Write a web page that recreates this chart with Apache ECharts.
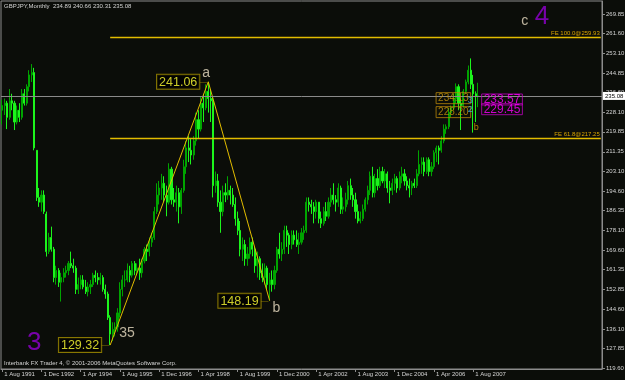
<!DOCTYPE html>
<html><head><meta charset="utf-8">
<script src="https://cdn.jsdelivr.net/npm/echarts@6/dist/echarts.min.js"></script>
<style>html,body{margin:0;padding:0;background:#0b0d09;}#c{width:625px;height:380px;}</style>
</head><body><div id="c"></div>
<script>
// ---- data (GBPJPY monthly, Aug 1991 .. Oct 2007) ----
const opens = [
229,231,232,226,233,232,224,229,226,236,232,239,244,
245,212,192,190,193,185,169,175,170,158,161,156,158,
160,161,164,163,162,153,155,157,154,152,154,155,159,
158,157,158,153,151,141,134,136,137,143,153,157,157,
161,159,164,161,162,160,165,170,169,173,175,186,193,
196,198,193,190,204,191,190,194,188,195,205,213,212,
210,216,225,221,232,230,237,234,233,197,199,190,186,
194,193,195,193,189,183,178,170,172,166,168,173,170,
163,166,160,158,162,155,157,155,161,170,168,170,178,
176,172,176,174,172,173,177,178,190,189,188,186,190,
183,181,186,184,190,193,191,190,196,187,188,191,197,
193,191,186,182,183,187,191,195,201,194,200,197,203,
199,202,196,195,198,200,196,201,202,199,197,196,198,
197,202,206,207,203,208,203,205,211,213,212,216,221,
222,228,230,234,239,232,231,237,241,246,240,236,234.89];
const highs = [
233.5,234,233,238,236,233,231,232,238,238,240,246,248.6,
247,212,196,195,195,186,177,179.6,171,163,162,160,162,
163,165,169,166,163,158,159,159,157,156,157,160,161,
160,160,159,155,152,142,139,139,145,156,159,161,164,
163,165,165,164,166,166,171,172,175,177,188,198,199,
202,201,197,206.5,205,196,197,196,196,208,216,218,217,
218,228,229,235,236,240,241.06,238,235,203,202,195,197,
198,201,197,196,192,186,182,175,174,171,175,175,171,
169,167,164,164,163,160,161,163,171,177,173,180,180,
177,178,178,178,177,179,180,192,192,191,190,191,190,
186,188,190,192,196,198,193,198,197,192,194,199,200,
196,194,189,186,189,192,197,203,205,202,204,205,205,
204,203,199,200,202,201,203,205,204,201,200,199,200,
204,212,209,209,209,209,207,212,214,214,218,223,223,
230,231,236,240.4,240,234,238,242,248,251,244,237,240.66];
const lows = [
223,227,221,225,229,220.6,223,224,225,231,231,237,241,
212,190.5,188,186,185,166.9,168,169,156,155,154,147.8,156,
158,159,162,160,151,151,153,153,151,150,151,154,156,
155,155,152,149,140,129.32,131,133,135,141,150,154,156,
156,158,159,159,157,158,164,165,167,171,174,185,189,
191,190,184,189,189,188,186,181,185,194,202,207,206,
208,214,217,220,224,229,228,224,192,194,188,177,184,
190,191,189,188,180,176,167,165,163,163,166,167,160,
158,157,156,155,153,148.19,152,153,160,166,165,168,171,
168,170,172,171,168,172,174,177,186,185,181,183,181,
179,180,182,183,188,189,186,188,185,185,186,189,191,
188,183,181,181,182,186,189,193,192,192,195,196,198,
196,194,189.5,193,195,194,195,198,197,195,192,193,196,
196,201,202,201,202,201,201,204,207,206,211,215,219,
221,226,229,232,229,220.6,230,236,240,238,219.5,224,230.31];
const closes = [
231,232,226,233,232,224,229,226,236,232,239,244,245,
213,192,190,193,186,169,175,170,158,161,156,158,160,
161,164,163,162,153,155,157,154,152,154,155,159,158,
157,158,153,151,141,134,136,137,143,153,157,157,161,
159,164,161,162,160,165,170,169,173,175,186,193,196,
198,193,190,204,191,190,194,188,195,205,213,212,210,
216,225,221,232,230,237,234,233,197,199,190,186,194,
193,195,193,189,183,178,170,172,166,168,173,170,163,
166,160,158,162,155,157,155,161,170,168,170,178,176,
172,176,174,172,173,177,178,190,189,188,186,190,183,
181,186,184,190,193,191,190,196,187,188,191,197,193,
191,186,182,183,187,191,195,201,194,200,197,203,199,
202,196,195,198,200,196,201,202,199,197,196,198,197,
202,206,207,203,208,203,205,211,213,212,216,221,222,
228,230,234,239,232,231,237,241,246,240,236,234.89,235.08];

const xTickLabels = ['1 Aug 1991','1 Dec 1992','1 Apr 1994','1 Aug 1995','1 Dec 1996','1 Apr 1998',
  '1 Aug 1999','1 Dec 2000','1 Apr 2002','1 Aug 2003','1 Dec 2004','1 Apr 2006','1 Aug 2007'];
const yTickLabels = ['119.60','127.85','136.10','144.60','152.85','161.35','169.60','178.10','186.35',
  '194.60','203.10','211.35','219.85','228.10','236.60','244.85','253.10','261.60','269.85'];

const titleText = 'GBPJPY,Monthly  234.89 240.66 230.31 235.08';
const copyrightText = 'Interbank FX Trader 4, \u00A9 2001-2006 MetaQuotes Software Corp.';
const currentPrice = 235.08;

// zigzag pivots (start, a, b)
const pivotCats = [44, 84, 109];
const pivotPrices = [129.32, 241.06, 148.19];
const pivotTexts = ['129.32', '241.06', '148.19'];
// Fibonacci expansion levels
const feStartCat = 44;
const feEndCat = 244;
const feLevels = [259.93, 217.25];
const feTexts = ['FE 100.0@259.93', 'FE 61.8@217.25'];
// wave labels
const waveTexts = ['3', 'c', '4'];
const waveCats = [12.75, 212.7, 219.6];
const wavePrices = [130.2, 266.9, 268.8];
// recent price boxes
const orangeTexts = ['234.13', '228.20'];
const orangePrices = [234.13, 228.20];
const magentaTexts = ['233.57', '229.45'];
const magentaPrices = [233.57, 229.45];
const recentCat = 193;

// ---- categories (months) ----
const monthNames = ['Jan','Feb','Mar','Apr','May','Jun','Jul','Aug','Sep','Oct','Nov','Dec'];
const totalSlots = 245;
const categories = [];
for (let k = 0; k < totalSlots; k++) {
  const m = (7 + k) % 12, y = 1991 + Math.floor((7 + k) / 12);
  categories.push('1 ' + monthNames[m] + ' ' + y);
}
const candleData = opens.map((o, i) => [o, closes[i], lows[i], highs[i]]);
const yTickValues = yTickLabels.map(Number);
const isTick = (idx) => xTickLabels.indexOf(categories[idx]) >= 0;

const FG = '#d4d4d4', AX = '#8c8c8c', GOLD = '#e2bc00', WHEAT = '#e8dcc2';
const FONT = 'Liberation Sans, Arial, sans-serif';

const chart = echarts.init(document.getElementById('c'), null, {renderer: 'canvas'});
chart.setOption({
  animation: false,
  backgroundColor: '#0b0d09',
  textStyle: {fontFamily: FONT},
  grid: {left: 1, right: 23, top: 1, bottom: 11, containLabel: false, outerBoundsMode: 'none',
         show: true, borderColor: AX, borderWidth: 1, backgroundColor: 'transparent'},
  xAxis: {
    type: 'category', data: categories, boundaryGap: true,
    axisLine: {show: true, lineStyle: {color: AX}},
    axisTick: {show: true, alignWithLabel: true, interval: (i) => isTick(i), length: 3, lineStyle: {color: AX}},
    axisLabel: {interval: (i) => isTick(i), color: FG, fontSize: 6, align: 'left', margin: 2, padding: [0,0,0,2], fontFamily: FONT},
    splitLine: {show: false}
  },
  yAxis: {
    type: 'value', position: 'right', min: 119.18, max: 275.37, scale: true,
    splitLine: {show: false},
    axisLine: {show: true, lineStyle: {color: AX}},
    axisTick: {show: true, length: 3, customValues: yTickValues, lineStyle: {color: AX}},
    axisLabel: {customValues: yTickValues, formatter: (v) => Number(v).toFixed(2), color: FG, fontSize: 6, margin: 4, fontFamily: FONT}
  },
  graphic: [
    {type: 'text', left: 4, top: 3, style: {text: titleText, fill: FG, fontSize: 6, fontFamily: FONT}},
    {type: 'text', left: 4, top: 360, style: {text: copyrightText, fill: FG, fontSize: 6, fontFamily: FONT}}
  ],
  series: [
    {
      type: 'candlestick', data: candleData, barWidth: 1.6, z: 2,
      itemStyle: {color: '#00a400', color0: '#1cf41c', borderColor: '#00a400', borderColor0: '#1cf41c', borderWidth: 1},
      markLine: {
        symbol: ['none', 'none'], silent: true, animation: false,
        data: [{yAxis: currentPrice, lineStyle: {color: '#8a8a8a', type: 'solid', width: 1},
          label: {show: true, position: 'end', formatter: currentPrice.toFixed(2), backgroundColor: '#ffffff',
                  color: '#000', fontSize: 6, padding: [1, 2], distance: 1, fontFamily: FONT}}]
      }
    },
    {
      type: 'line', data: pivotCats.map((c, k) => [c, pivotPrices[k]]), symbol: 'none', z: 3,
      lineStyle: {color: GOLD, width: 1},
      markLine: {
        symbol: ['none', 'none'], silent: true, animation: false,
        lineStyle: {color: GOLD, type: 'solid', width: 1.4},
        label: {show: true, position: 'insideEndTop', color: '#d9a400', fontSize: 6, distance: 1, fontFamily: FONT},
        data: feLevels.map((lv, k) => [
          {coord: [feStartCat, lv], label: {formatter: feTexts[k]}},
          {coord: [feEndCat, lv]}
        ])
      }
    },
    {
      type: 'scatter', symbolSize: 0, z: 5, silent: true, clip: false,
      data: [
        ...pivotCats.map((c, k) => ({value: [c, pivotPrices[k]], label: {
          show: true, position: 'left', distance: 1,
          formatter: '{box|' + pivotTexts[k] + '}{dash|\u2014}',
          rich: {
            box: {color: '#ffff33', fontSize: 12.5, fontFamily: FONT, borderColor: '#a89200', borderWidth: 1,
                  padding: [1, 2, 0, 2], lineHeight: 13, backgroundColor: '#000'},
            dash: {color: '#a89200', fontSize: 8, fontFamily: FONT}
          }}})),
        {value: [pivotCats[0], pivotPrices[0]], label: {show: true, position: [9, -19], formatter: '35', color: WHEAT, fontSize: 14, fontFamily: FONT}},
        {value: [pivotCats[1], pivotPrices[1]], label: {show: true, position: [-6, -16], formatter: 'a', color: WHEAT, fontSize: 14, fontFamily: FONT}},
        {value: [pivotCats[2], pivotPrices[2]], label: {show: true, position: [3, 0], formatter: 'b', color: WHEAT, fontSize: 14, fontFamily: FONT}},
        ...waveTexts.map((t, k) => ({value: [waveCats[k], wavePrices[k]], label: {
          show: true, position: 'inside', formatter: t,
          color: t === 'c' ? WHEAT : '#9400d3', fontSize: t === 'c' ? 14 : 26, fontFamily: FONT}})),
        ...orangeTexts.map((t, k) => ({value: [recentCat, orangePrices[k]], label: {
          show: true, position: 'left', distance: 5, formatter: t, color: '#c8960a', fontSize: 10,
          borderColor: '#b8860b', borderWidth: 1, padding: [1, 2, 0, 2], lineHeight: 10, fontFamily: FONT}})),
        ...magentaTexts.map((t, k) => ({value: [recentCat, magentaPrices[k]], label: {
          show: true, position: 'right', distance: 6, formatter: t, color: '#ff00ff', fontSize: 12, fontFamily: FONT,
          borderColor: '#c000c0', borderWidth: 1, padding: [0, 2], lineHeight: 11}})),
        {value: [recentCat, 226], label: {show: true, position: [-2, 6], formatter: 'b', color: '#e0a000', fontSize: 9, fontFamily: FONT}},
        {value: [recentCat, 231.5], label: {show: true, position: [-8, -8], formatter: '3\n2', color: '#3cb8f0', fontSize: 9, lineHeight: 9, fontFamily: FONT}}
      ]
    }
  ]
});
</script>
</body></html>
